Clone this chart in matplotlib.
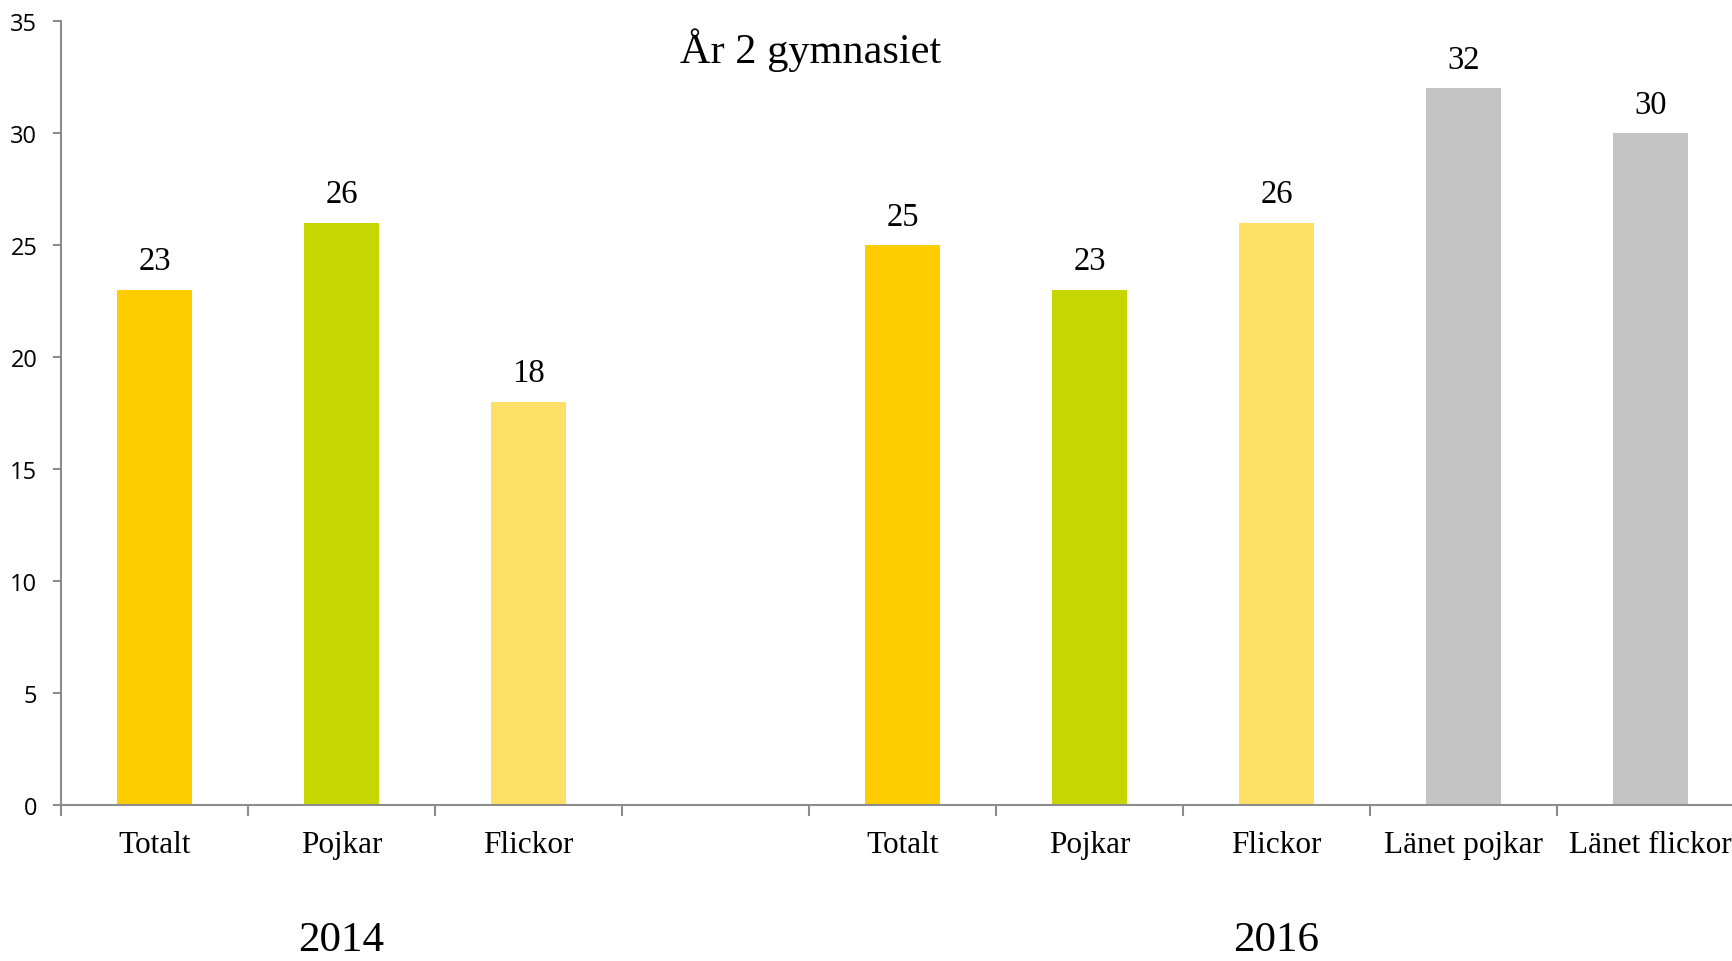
import numpy as np
import matplotlib
matplotlib.use('Agg')
import matplotlib.pyplot as plt

# data
kategorier = ['Totalt', 'Pojkar', 'Flickor', '', 'Totalt', 'Pojkar', 'Flickor', 'Länet pojkar', 'Länet flickor']
varden = [23, 26, 18, None, 25, 23, 26, 32, 30]
farger = ['#FFCC00', '#C8D600', '#FFE066', None, '#FFCC00', '#C8D600', '#FFE066', '#C4C4C4', '#C4C4C4']
ar = ['2014', '2016']
ar_kolumner = [[0, 1, 2], [4, 5, 6, 7, 8]]
yticks = [0, 5, 10, 15, 20, 25, 30, 35]

serif = 'Liberation Serif'

fig = plt.figure(figsize=(17.33, 9.62), dpi=100)
ax = fig.add_axes([61/1733, 156/962, 1683/1733, 784/962])

x = np.arange(len(kategorier))
for i in range(len(kategorier)):
    if varden[i] is None:
        continue
    ax.bar(x[i], varden[i], width=0.4, color=farger[i])
    ax.text(x[i], varden[i] + 0.6, str(varden[i]), ha='center', va='bottom',
            fontsize=23.5, family=serif)

ax.set_xlim(-0.5, len(kategorier) - 0.5)
ax.set_ylim(0, 35)
ax.set_yticks(yticks)

ax.set_xticks(x)
ax.set_xticklabels(kategorier, fontsize=22.5, family=serif)
ax.set_xticks(np.arange(len(kategorier) + 1) - 0.5, minor=True)
ax.tick_params(axis='x', which='major', length=0, pad=18)
ax.tick_params(axis='x', which='minor', length=8, width=1.5, color='#8C8C8C', direction='out')
ax.tick_params(axis='y', length=6, width=1.5, color='#8C8C8C', labelsize=17, pad=11)
for lab in ax.get_yticklabels():
    lab.set_family('Open Sans')

for s in ['top', 'right']:
    ax.spines[s].set_visible(False)
for s in ['left', 'bottom']:
    ax.spines[s].set_color('#8C8C8C')
    ax.spines[s].set_linewidth(1.5)

# år under grupperna
for namn, kol in zip(ar, ar_kolumner):
    ax.text(np.mean(kol), -0.172, namn, transform=ax.get_xaxis_transform(),
            ha='center', va='center', fontsize=31, family=serif)

fig.text(811/1733, 1 - 50/962, 'År 2 gymnasiet', ha='center', va='center',
         fontsize=30.5, family=serif)

fig.savefig('out.png', dpi=100)
